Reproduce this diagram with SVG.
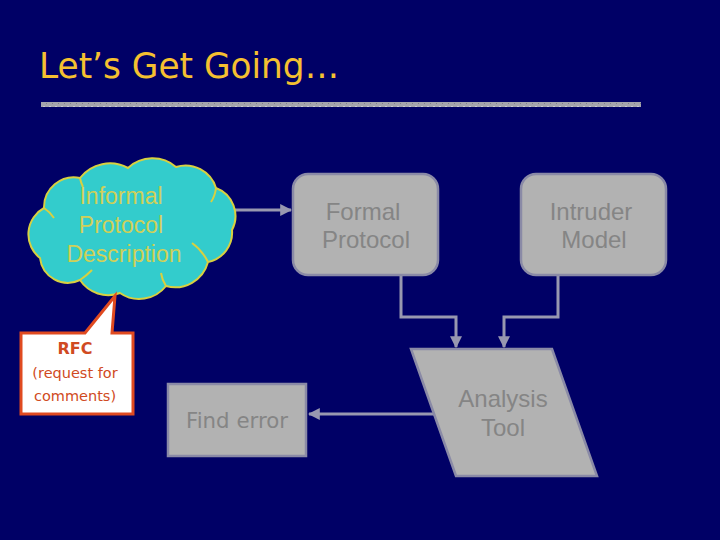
<svg xmlns="http://www.w3.org/2000/svg" width="720" height="540" viewBox="0 0 720 540">
<defs>
<style>
.box{fill:#B2B2B2;stroke:#8A8AA6;stroke-width:2.5}
.btxt{font-size:24px;fill:#858585;text-anchor:middle}
.conn{fill:none;stroke:#9898B0;stroke-width:3}
.ctxt{font-size:23px;fill:#D0D058;text-anchor:middle}
.rtxt{fill:#D04A22;text-anchor:middle}
</style>
<marker id="ah" viewBox="0 0 10 10" refX="9" refY="5" markerWidth="4" markerHeight="4" orient="auto" markerUnits="strokeWidth">
<path d="M0,0 L10,5 L0,10 z" fill="#9898B0"/>
</marker>
<pattern id="tex" width="6" height="5" patternUnits="userSpaceOnUse">
<rect width="6" height="5" fill="#A4A4AC"/>
<rect x="1" y="1" width="2" height="1" fill="#C8C8D0"/>
<rect x="4" y="3" width="1" height="1" fill="#7E7E88"/>
</pattern>
</defs>
<rect width="720" height="540" fill="#000066"/>
<text x="39" y="78" font-family="DejaVu Sans, sans-serif" font-size="35" fill="#F5C030" textLength="300" lengthAdjust="spacingAndGlyphs">Let’s Get Going…</text>
<rect x="41" y="102" width="600" height="5" fill="url(#tex)"/>

<g id="connectors">
<path class="conn" d="M231,210 L291,210" marker-end="url(#ah)"/>
<path class="conn" d="M401,276 L401,317 L456,317 L456,347" marker-end="url(#ah)"/>
<path class="conn" d="M558,276 L558,317 L504,317 L504,347" marker-end="url(#ah)"/>
<path class="conn" d="M434,414 L309,414" marker-end="url(#ah)"/>
</g>

<g id="informal" font-family="'Liberation Sans', Arial, sans-serif">
<path d="M44,208 A30,30 0 0 1 80,178 A38,38 0 0 1 128,168 A36,36 0 0 1 176,167 A32,32 0 0 1 216,188 A30,30 0 0 1 232,230 A30,30 0 0 1 208,262 A34,34 0 0 1 166,286 A34,34 0 0 1 120,293 A34,34 0 0 1 80,280 A28,28 0 0 1 40,258 A30,30 0 0 1 44,208 Z" fill="#33CCCC" stroke="#D8D040" stroke-width="2"/>
<path d="M44,208 Q50,212 54,218 M80,178 Q81,183 83,187 M216,188 Q215,196 211,202 M208,262 Q202,250 192,243 M166,286 Q162,280 161,273 M80,280 Q86,276 92,270" fill="none" stroke="#D8D040" stroke-width="2"/>
<text class="ctxt" x="121" y="204">Informal</text>
<text class="ctxt" x="121" y="233">Protocol</text>
<text class="ctxt" x="124" y="262">Description</text>
</g>

<g id="formal" font-family="'Liberation Sans', Arial, sans-serif">
<rect class="box" x="293" y="174" width="145" height="101" rx="15"/>
<text class="btxt" x="363" y="220">Formal</text>
<text class="btxt" x="366" y="248">Protocol</text>
</g>

<g id="intruder" font-family="'Liberation Sans', Arial, sans-serif">
<rect class="box" x="521" y="174" width="145" height="101" rx="15"/>
<text class="btxt" x="591" y="220">Intruder</text>
<text class="btxt" x="594" y="248">Model</text>
</g>

<g id="analysis" font-family="'Liberation Sans', Arial, sans-serif">
<polygon class="box" points="411,349 552,349 597,476 456,476"/>
<text class="btxt" x="503" y="407">Analysis</text>
<text class="btxt" x="503" y="436">Tool</text>
</g>

<g id="finderror" font-family="DejaVu Sans, sans-serif">
<rect class="box" x="168" y="384" width="138" height="72"/>
<text x="237" y="428" font-size="21" fill="#858585" text-anchor="middle" textLength="102" lengthAdjust="spacingAndGlyphs">Find error</text>
</g>

<g id="rfc" font-family="DejaVu Sans, sans-serif">
<path d="M21,333 L85,333 L115,296 L112,333 L133,333 L133,414 L21,414 Z" fill="#FFFFFF" stroke="#E04A20" stroke-width="3"/>
<text class="rtxt" x="75" y="354" font-size="16" font-weight="bold">RFC</text>
<text class="rtxt" x="75" y="378" font-size="14.5">(request for</text>
<text class="rtxt" x="75" y="401" font-size="14.5">comments)</text>
</g>
</svg>
